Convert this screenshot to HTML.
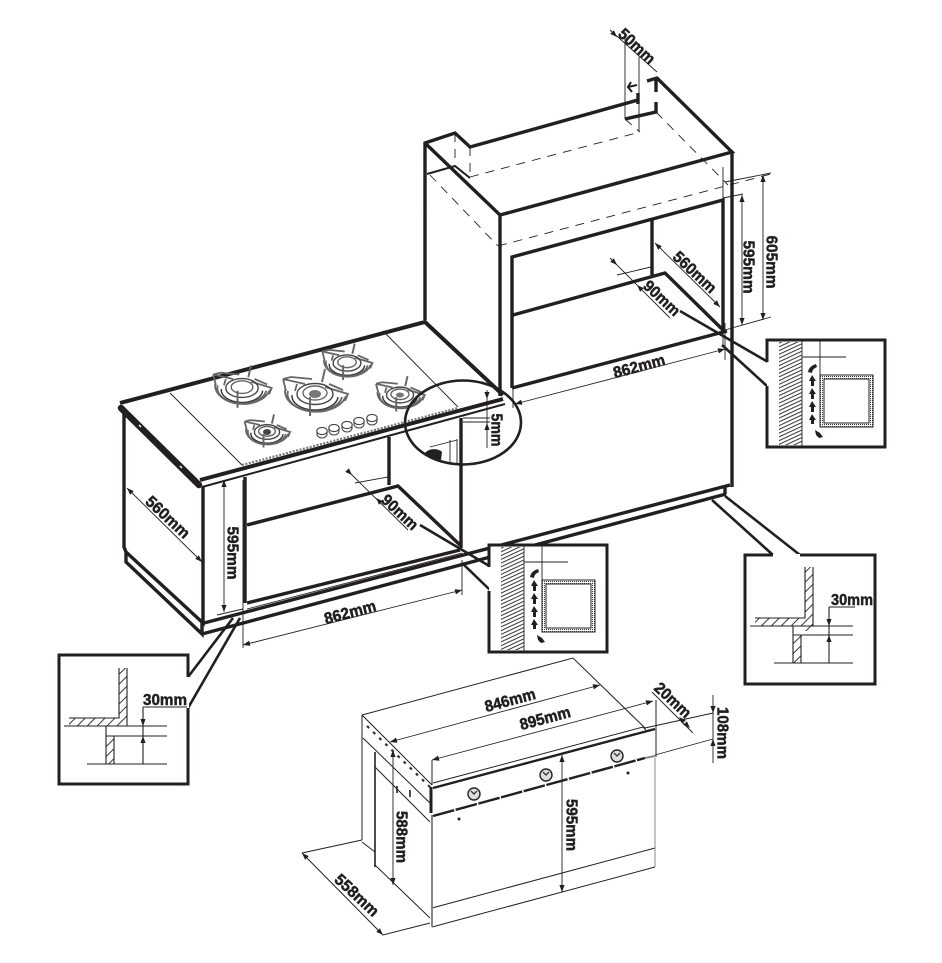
<!DOCTYPE html>
<html><head><meta charset="utf-8"><style>
html,body{margin:0;padding:0;background:#fff}
svg{display:block}
text{font-family:"Liberation Sans",sans-serif;font-weight:bold;font-size:16px;fill:#231f20;stroke:#231f20;stroke-width:.5;text-anchor:middle}
.k{stroke:#231f20;fill:none;stroke-width:3.4;stroke-linejoin:miter}
.m{stroke:#231f20;fill:none;stroke-width:2}
.t{stroke:#231f20;fill:none;stroke-width:.9}
.d{stroke:#231f20;fill:none;stroke-width:.9;stroke-dasharray:9 7}
.g{stroke:#666;fill:none;stroke-width:1.8}
.a{fill:#231f20;stroke:none}
</style></head><body>
<svg width="942" height="963" viewBox="0 0 942 963" xmlns="http://www.w3.org/2000/svg">
<defs>
<pattern id="h" width="3.4" height="3.4" patternUnits="userSpaceOnUse" patternTransform="rotate(-25)"><rect width="3.4" height="3.4" fill="#fff"/><line x1="0" y1="1" x2="3.4" y2="1" stroke="#333" stroke-width="1"/></pattern>
<pattern id="w" width="7" height="7" patternUnits="userSpaceOnUse" patternTransform="rotate(-45)"><rect width="7" height="7" fill="#fff"/><line x1="0" y1="1" x2="7" y2="1" stroke="#222" stroke-width=".9"/></pattern>
<pattern id="s" width="2" height="2" patternUnits="userSpaceOnUse"><rect width="2" height="2" fill="#fff"/><rect width="1" height="1" fill="#333"/></pattern>
<g id="burn">
<path d="M-23 1A23 14 0 0 0 23 3" fill="none" stroke="#333" stroke-width="1.4" vector-effect="non-scaling-stroke"/>
<path class="g" vector-effect="non-scaling-stroke" d="M-30 -4A31 21 0 0 0 31 2M-27 -3A27 17 0 0 0 27 3M-32 -15L-29 -3M-32 -15L-10 -10M-32 -15L-24 -17M7 -12L10 -25M10 -7L33 0L30 7M-5 3L-5 22M-24 -17L-3 -15M-18 -10L-20 -3M14 -10L28 -4"/>
<ellipse cx="0" cy="0" rx="18" ry="10.500" fill="none" stroke="#444" stroke-width="1.4" vector-effect="non-scaling-stroke"/>
<ellipse cx="0" cy="-1" rx="12" ry="7" fill="none" stroke="#666" stroke-width="1.4" vector-effect="non-scaling-stroke"/>
<path class="g" vector-effect="non-scaling-stroke" d="M-5 3L-5 22M7 -12L10 -25"/>
</g>
<g id="ar"><path class="a" d="M0 0L-2.6 7H2.6Z"/></g>
</defs>

<!-- upper unit -->
<path class="k" d="M425 320V143L455 133L470 147L638 100M638 93V104M425 143L500 215L732 152L657 78L647 81M656 78V92M656 102V112L625 119"/>
<path class="k" d="M500 215V396M732 152V487M512 388V257L723 200V331M652 220V275M513 315L665 273L724 331M512 388L727 331"/>
<path class="m" d="M427 174L455 166L470 178"/>
<path class="d" d="M455 133V166M470 147V178M470 177L640 132M625 119L640 132M656 112L728 185M430 175L498 246M498 246L771 174"/>

<!-- dims top -->
<path class="t" d="M610 30L657 72M625 37V119M639 57V132M610 258L670 318M617 275L651 267M655 243L720 307M723 167V347M725 182L771 173M723 198L743 194M725 330L771 317M742 195V325M763 175V320"/>
<path class="m" d="M628 87L637 85M631 82L628 87L632 92"/>
<use href="#ar" transform="translate(742,195)"/><use href="#ar" transform="translate(742,325) rotate(180)"/>
<use href="#ar" transform="translate(763,175)"/><use href="#ar" transform="translate(763,320) rotate(180)"/>
<use href="#ar" transform="translate(655,243) rotate(-45)"/><use href="#ar" transform="translate(720,307) rotate(135)"/>
<use href="#ar" transform="translate(617,265) rotate(135)"/><use href="#ar" transform="translate(637,285) rotate(-45)"/>
<use href="#ar" transform="translate(617,37) rotate(135)"/>
<text transform="translate(637,46) rotate(43)" dy=".35em" textLength="44" lengthAdjust="spacingAndGlyphs">50mm</text>
<text transform="translate(695,272) rotate(43)" dy=".35em" textLength="53" lengthAdjust="spacingAndGlyphs">560mm</text>
<text transform="translate(662,298) rotate(43)" dy=".35em" textLength="44" lengthAdjust="spacingAndGlyphs">90mm</text>
<text transform="translate(749,267) rotate(90)" dy=".35em" textLength="53" lengthAdjust="spacingAndGlyphs">595mm</text>
<text transform="translate(772,262) rotate(90)" dy=".35em" textLength="53" lengthAdjust="spacingAndGlyphs">605mm</text>
<path class="t" d="M513 388V408M515 404L725 349M725 323V360"/>
<use href="#ar" transform="translate(515,404) rotate(-105)"/>
<use href="#ar" transform="translate(725,349) rotate(75)"/>
<text transform="translate(639,366) rotate(-15)" dy=".35em" textLength="53" lengthAdjust="spacingAndGlyphs">862mm</text>

<!-- plinth lower -->
<path class="k" d="M204 623L730 485M202 634L726 494M725 485V494"/>
<path class="k" d="M124 413V547L126 552L203 623V487M126 552V562L202 634V623M245 477V603M247 525L398 486L460 545M389 437V485M461 418V548"/>
<path class="k" d="M247 603L460 550"/>
<path class="t" d="M247 609L462 553"/>

<!-- countertop -->
<path class="k" style="stroke-width:4" d="M120 403L425 322L503 395"/>
<path class="k" style="stroke-width:4" d="M200 480L503 399"/>
<path class="k" style="stroke-width:6.5" stroke-linecap="round" d="M121 408L199 485"/>
<path stroke="#fff" stroke-width="1.5" fill="none" d="M139 425l2 2M180 466l2 2"/>
<path class="m" d="M202 487L505 404"/>
<path class="t" d="M170 393L242 465M383 331L458 407"/>
<path d="M242 465L458 408" stroke="#777" stroke-width="2.2" stroke-dasharray="2 1.5" fill="none"/>

<!-- burners -->
<use href="#burn" transform="translate(242,388) scale(.9)"/>
<use href="#burn" transform="translate(315,394)"/>
<use href="#burn" transform="translate(347,363) scale(.77)"/>
<use href="#burn" transform="translate(400,395) scale(.75)"/>
<use href="#burn" transform="translate(267,432) scale(.7)"/>
<ellipse cx="315" cy="394" rx="6" ry="4" fill="#777"/><ellipse cx="267" cy="432" rx="4" ry="3" fill="#444"/><ellipse cx="400" cy="395" rx="4" ry="2.500" fill="#777"/>
<g fill="#fff" stroke="#444" stroke-width="1.1"><path d="M317 431v3a5 4 0 0 0 10 0v-3"/><ellipse cx="322" cy="431" rx="5.200" ry="3.600"/><path d="M329 428v3a5 4 0 0 0 10 0v-3"/><ellipse cx="334" cy="428" rx="5.200" ry="3.600"/><path d="M342 425v3a5 4 0 0 0 10 0v-3"/><ellipse cx="347" cy="425" rx="5.200" ry="3.600"/><path d="M354 421v3a5 4 0 0 0 10 0v-3"/><ellipse cx="359" cy="421" rx="5.200" ry="3.600"/><path d="M367 418v3a5 4 0 0 0 10 0v-3"/><ellipse cx="372" cy="418" rx="5.200" ry="3.600"/></g>

<!-- circle detail -->
<path class="t" d="M463 418H490M463 422H490M430 447L457 440M450 440V463M457 439V463"/>
<path class="a" d="M425 453A10 7 0 0 1 442 452L441 460L432 458Z"/>
<ellipse cx="463" cy="422.500" rx="58" ry="42" fill="none" stroke="#231f20" stroke-width="2.6"/>
<path class="t" d="M487 390V448"/>
<use href="#ar" transform="translate(487,399) rotate(180)"/><use href="#ar" transform="translate(487,423)"/>
<text transform="translate(497,430) rotate(90)" dy=".35em" textLength="33" lengthAdjust="spacingAndGlyphs">5mm</text>

<!-- lower dims -->
<path class="t" d="M127 488L202 562M224 480V612M217 615L243 609M243 480V648M243 645L462 590M462 560V595M350 473L408 530M355 483L388 477"/>
<use href="#ar" transform="translate(127,488) rotate(-45)"/><use href="#ar" transform="translate(202,562) rotate(135)"/>
<use href="#ar" transform="translate(224,480)"/><use href="#ar" transform="translate(224,612) rotate(180)"/>
<use href="#ar" transform="translate(243,645) rotate(-105)"/><use href="#ar" transform="translate(462,590) rotate(75)"/>
<use href="#ar" transform="translate(352,475) rotate(135)"/><use href="#ar" transform="translate(376,498) rotate(-45)"/>
<text transform="translate(168,517) rotate(43)" dy=".35em" textLength="54" lengthAdjust="spacingAndGlyphs">560mm</text>
<text transform="translate(233,553) rotate(90)" dy=".35em" textLength="53" lengthAdjust="spacingAndGlyphs">595mm</text>
<text transform="translate(350,612) rotate(-15)" dy=".35em" textLength="53" lengthAdjust="spacingAndGlyphs">862mm</text>
<text transform="translate(400,512) rotate(43)" dy=".35em" textLength="44" lengthAdjust="spacingAndGlyphs">90mm</text>

<!-- leaders -->
<path class="k" style="stroke-width:2.6" d="M420 525L491 567M462 563L490 590M680 311L768 362M722 345L767 386M712 500L773 555M725 496L800 555M233 618L188 677M240 618L188 708"/>

<!-- detail box 1 -->
<g id="box">
<rect x="767" y="340" width="118" height="107" fill="#fff" stroke="none"/>
<path class="k" style="stroke-width:3" d="M767 362V340H885V447H767V386"/>
<rect x="779" y="342" width="23" height="103" fill="url(#h)"/>
<path class="t" d="M802 340V447M820 340V375M802 357H846"/>
<rect x="820" y="375" width="53" height="52" fill="url(#s)" stroke="#231f20" stroke-width="1"/>
<rect x="824" y="379" width="45" height="44" fill="#fff" stroke="#231f20" stroke-width="1"/>
<g class="a"><path d="M808 372Q809 366 816 364L817 367Q812 369 812 373Z"/><path d="M812 375L809 381H811V386H814V381H816Z"/><path d="M812 388L809 394H811V399H814V394H816Z"/><path d="M812 401L809 407H811V412H814V407H816Z"/><path d="M812 414L809 420H811V424H814V420H816Z"/><path d="M815 430L820 433L823 437L819 438L816 435Z"/></g>
</g>
<use href="#box" transform="translate(-278,205)"/>

<!-- detail box right -->
<rect x="744" y="554" width="131" height="131" fill="#fff" stroke="none"/>
<path class="k" style="stroke-width:3" d="M773 555H745V684H875V555H800"/>
<rect x="805" y="567" width="8" height="64" fill="url(#w)"/><rect x="755" y="618" width="58" height="8" fill="url(#w)"/><rect x="793" y="635" width="8" height="28" fill="url(#w)"/>
<path class="t" style="stroke-width:1.1" d="M805 567V618H755M813 567V626M750 626H853M793 626V663M801 635V663M793 635H853M774 663H853M829 607V663M829 607H855"/>
<use href="#ar" transform="translate(829,626) rotate(180)"/><use href="#ar" transform="translate(829,635)"/>
<text x="852" y="605" textLength="42" lengthAdjust="spacingAndGlyphs">30mm</text>

<!-- detail box left -->
<rect x="59" y="655" width="130" height="130" fill="#fff" stroke="none"/>
<path class="k" style="stroke-width:3" d="M188 677V655H59V784H188V708"/>
<rect x="119" y="668" width="8" height="58" fill="url(#w)"/><rect x="69" y="718" width="58" height="8" fill="url(#w)"/><rect x="106" y="736" width="8" height="28" fill="url(#w)"/>
<path class="t" style="stroke-width:1.1" d="M119 668V718H69M127 668V726M64 726H167M106 726V764M114 736V764M106 736H167M87 764H167M143 707V764M143 707H187"/>
<use href="#ar" transform="translate(143,726) rotate(180)"/><use href="#ar" transform="translate(143,736)"/>
<text x="165" y="705" textLength="44" lengthAdjust="spacingAndGlyphs">30mm</text>

<!-- oven -->
<path class="t" style="stroke-width:1" d="M362 715L573 658L645 728M362 715L432 785M362 715V840M363 738L430 803M375 767L430 822M362 842L375 852M656 700V757M432 927L655 867M432 908L655 848M432 760V785M302 853L383 935L430 923M362 840L302 853M375 865L430 918M433 783L643 727L646 730"/>
<path d="M375 752V867" stroke="#231f20" stroke-width="1.6" fill="none"/>
<path d="M432 815V927" stroke="#888" stroke-width="2" fill="none"/>
<path d="M431 787V813" stroke="#231f20" stroke-width="3" fill="none"/>
<path d="M433 788L655 729" stroke="#231f20" stroke-width="2.4" fill="none"/>
<path d="M433 816L645 758" stroke="#231f20" stroke-width="2.4" fill="none" stroke-dasharray="22 1.5"/>
<path d="M645 758L655 756" stroke="#888" stroke-width="2" fill="none"/>
<path d="M655 758V867" stroke="#888" stroke-width="1" fill="none"/>
<path d="M367 726L431 788" stroke="#333" stroke-width="2.2" stroke-dasharray="3 5.5" fill="none"/>
<path d="M397 786V793M410 790V797" stroke="#231f20" stroke-width="1.6" fill="none"/>
<g fill="#ddd" stroke="#222" stroke-width="1.4"><circle cx="474" cy="794" r="6"/><circle cx="546" cy="775" r="6"/><circle cx="617" cy="756" r="6"/></g>
<g fill="none" stroke="#222" stroke-width="1.2"><path d="M471 791l3 3l3-3M543 772l3 3l3-3M614 753l3 3l3-3"/></g>
<circle cx="459" cy="819" r="1.5" class="a"/><circle cx="628" cy="773" r="1.5" class="a"/>
<path class="t" d="M390 742L600 685M432 760L653 701M562 755V892M393 750V885M652 692L693 733M645 728L713 713M655 755L713 739M713 695V763"/>
<use href="#ar" transform="translate(390,742) rotate(-105)"/><use href="#ar" transform="translate(600,685) rotate(75)"/>
<use href="#ar" transform="translate(432,760) rotate(-105)"/><use href="#ar" transform="translate(653,701) rotate(75)"/>
<use href="#ar" transform="translate(562,755)"/><use href="#ar" transform="translate(562,892) rotate(180)"/>
<use href="#ar" transform="translate(393,750)"/><use href="#ar" transform="translate(393,885) rotate(180)"/>
<use href="#ar" transform="translate(302,853) rotate(-45)"/><use href="#ar" transform="translate(383,935) rotate(135)"/>
<use href="#ar" transform="translate(679,717) rotate(-45)"/><use href="#ar" transform="translate(690,728) rotate(135)"/>
<use href="#ar" transform="translate(713,713) rotate(180)"/><use href="#ar" transform="translate(713,739)"/>
<text transform="translate(510,700) rotate(-15)" dy=".35em" textLength="52" lengthAdjust="spacingAndGlyphs">846mm</text>
<text transform="translate(545,718) rotate(-15)" dy=".35em" textLength="52" lengthAdjust="spacingAndGlyphs">895mm</text>
<text transform="translate(673,700) rotate(43)" dy=".35em" textLength="44" lengthAdjust="spacingAndGlyphs">20mm</text>
<text transform="translate(723,733) rotate(90)" dy=".35em" textLength="52" lengthAdjust="spacingAndGlyphs">108mm</text>
<text transform="translate(572,825) rotate(90)" dy=".35em" textLength="52" lengthAdjust="spacingAndGlyphs">595mm</text>
<text transform="translate(402,837) rotate(90)" dy=".35em" textLength="52" lengthAdjust="spacingAndGlyphs">588mm</text>
<text transform="translate(357,895) rotate(43)" dy=".35em" textLength="54" lengthAdjust="spacingAndGlyphs">558mm</text>
</svg>
</body></html>
